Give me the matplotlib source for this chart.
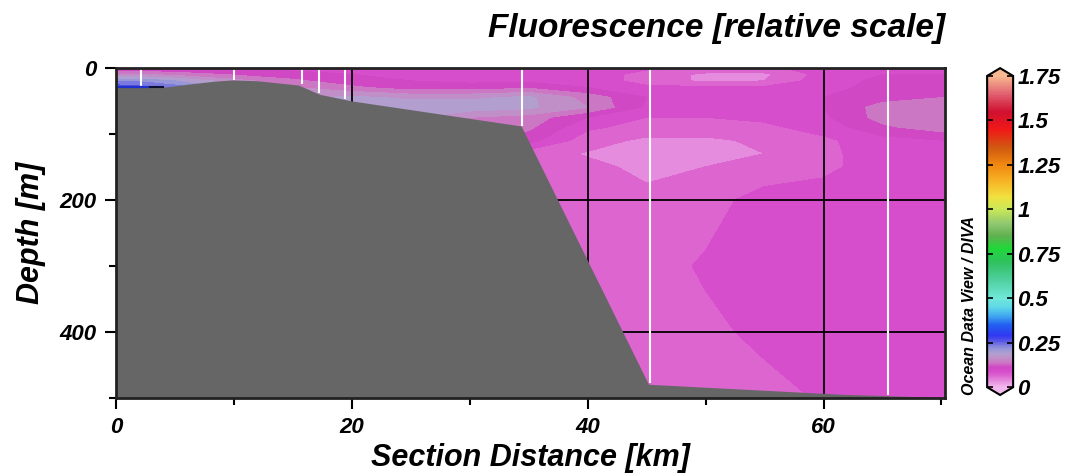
import numpy as np
import matplotlib
matplotlib.use("Agg")
import matplotlib.pyplot as plt
from matplotlib.colors import LinearSegmentedColormap, Normalize
from matplotlib import font_manager
from matplotlib.cm import ScalarMappable

# ---------------- data ----------------
x_km = [0, 2, 5, 10, 15, 20, 25, 30, 35, 40, 45, 50, 55, 60, 65, 70.3]
depth_m = [0, 10, 20, 30, 45, 60, 75, 90, 110, 130, 150, 200, 300, 400, 500]
fluor = [
    [.09, .09, .09, .09, .09, .09, .09, .09, .09, .09, .08, .07, .07, .085, .09, .09],
    [.15, .15, .14, .12, .11, .10, .09, .09, .09, .09, .065, .045, .045, .085, .10, .10],
    [.22, .22, .20, .16, .13, .11, .10, .095, .095, .09, .065, .045, .05, .09, .105, .105],
    [.27, .26, .24, .19, .15, .13, .11, .11, .12, .10, .08, .08, .08, .095, .105, .11],
    [.27, .26, .24, .20, .17, .18, .17, .17, .18, .14, .10, .09, .09, .10, .115, .125],
    [.27, .26, .24, .20, .18, .18, .19, .19, .18, .15, .095, .09, .09, .10, .135, .145],
    [.27, .26, .24, .20, .18, .18, .18, .15, .14, .10, .075, .075, .08, .095, .135, .15],
    [.27, .26, .24, .20, .18, .18, .16, .14, .13, .08, .065, .065, .07, .085, .12, .14],
    [.15, .15, .15, .15, .15, .15, .15, .13, .11, .06, .045, .045, .055, .07, .09, .10],
    [.06, .06, .06, .06, .06, .06, .06, .06, .06, .048, .04, .04, .05, .07, .085, .09],
    [.06, .06, .06, .06, .06, .06, .06, .06, .06, .055, .045, .05, .06, .07, .085, .09],
    [.06, .06, .06, .06, .06, .06, .06, .06, .06, .06, .055, .065, .085, .085, .09, .09],
    [.06, .06, .06, .06, .06, .06, .06, .06, .06, .06, .065, .078, .085, .09, .09, .095],
    [.06, .06, .06, .06, .06, .06, .06, .06, .06, .06, .06, .07, .08, .09, .09, .095],
    [.06, .06, .06, .06, .06, .06, .06, .06, .06, .06, .06, .065, .068, .077, .09, .095],
]

bathy_x = [0, 4, 6, 8.5, 9.9, 12, 15.5, 17.3, 20, 34.4, 45.2, 61.4, 70.3]
bathy_d = [30.5, 30.5, 26, 21, 19.3, 20.5, 27, 41, 51, 89, 480, 495, 500]

station_x = [2.1, 10.0, 15.8, 17.2, 19.4, 34.4, 45.3, 65.5]
station_bottom = [28, 19, 25, 38, 48, 89, 477, 495]

trace_x = [0, 4.0]
trace_blue_x = [0, 2.7]
trace_d = [29, 29]

cbar_ticks = [0, 0.25, 0.5, 0.75, 1.0, 1.25, 1.5, 1.75]
cbar_labels = ["0", "0.25", "0.5", "0.75", "1", "1.25", "1.5", "1.75"]

# ---------------- style ----------------
names = {f.name for f in font_manager.fontManager.ttflist}
fam = ["Liberation Sans Narrow"] if "Liberation Sans Narrow" in names else ["Liberation Sans"]
fam = fam + ["DejaVu Sans"]
plt.rcParams["font.family"] = fam
plt.rcParams["font.weight"] = "bold"
plt.rcParams["font.style"] = "italic"
plt.rcParams["axes.labelweight"] = "bold"

stops = [
    (0.0, "#f4b8f0"), (0.0375, "#e488dc"), (0.0625, "#dc64d0"), (0.0875, "#d64ccc"),
    (0.1125, "#d048c4"), (0.1375, "#cc78c4"), (0.1625, "#c090c8"), (0.1875, "#b0a0d0"),
    (0.2125, "#9898d8"), (0.2375, "#7878e0"), (0.2625, "#5050e8"), (0.29, "#3038f0"),
    (0.35, "#2060f0"), (0.4, "#40a8f0"), (0.45, "#60d8e8"), (0.5, "#70e8d8"),
    (0.6, "#50d0a0"), (0.7, "#30c060"), (0.78, "#20d838"), (0.85, "#60b050"),
    (0.92, "#90c870"), (1.0, "#c8e858"), (1.07, "#f0e040"), (1.15, "#f8b828"),
    (1.25, "#f08810"), (1.35, "#d05810"), (1.45, "#f01818"), (1.55, "#d01030"),
    (1.65, "#e06070"), (1.75, "#f8b890"),
]
vmax = 1.75
cmap = LinearSegmentedColormap.from_list("odv", [(v / vmax, c) for v, c in stops], N=512)
cmap.set_under("#f4b8f0")
cmap.set_over("#f8b890")
norm = Normalize(0, vmax)

fig = plt.figure(figsize=(10.66, 4.73), dpi=100)
ax = fig.add_axes([0.1088, 0.1586, 0.7777, 0.6983])

X, Y = np.meshgrid(np.array(x_km), np.array(depth_m))
Z = np.array(fluor)
levels = np.arange(0, 1.75 + 1e-9, 0.025)
ax.contourf(X, Y, Z, levels=levels, cmap=cmap, norm=norm, antialiased=False)

# seabed
poly_x = list(bathy_x) + [bathy_x[-1], bathy_x[0]]
poly_d = list(bathy_d) + [600, 600]
ax.fill(poly_x, poly_d, color="#666666", zorder=3, lw=0)

# station lines
ax.vlines(station_x, 0, station_bottom, colors="white", lw=1.5, zorder=4)
ax.plot(trace_x, trace_d, color="#101030", lw=1.5, zorder=5)
ax.plot(trace_blue_x, trace_d, color="#2030d0", lw=1.5, zorder=5)

ax.set_xlim(0, 70.3)
ax.set_ylim(500, 0)
ax.set_xticks([0, 20, 40, 60])
ax.set_xticks([10, 30, 50, 70], minor=True)
ax.set_yticks([0, 200, 400])
ax.set_yticks([100, 300, 500], minor=True)
ax.grid(True, which="major", color="black", lw=1.3, zorder=6)
ax.set_axisbelow(False)
for s in ax.spines.values():
    s.set_linewidth(2)
    s.set_color("#222222")
    s.set_zorder(7)
ax.tick_params(axis="both", which="major", direction="out", length=8, width=1.5,
               labelsize=16, pad=6)
ax.tick_params(axis="both", which="minor", direction="out", length=5, width=1.5)

ax.set_xlabel("Section Distance [km]", fontsize=22, labelpad=3)
ax.set_ylabel("Depth [m]", fontsize=22, labelpad=10)

fig.text(0.8865, 0.940, "Fluorescence [relative scale]", ha="right", va="center", fontsize=24)

# colorbar
cax = fig.add_axes([0.926, 0.1649, 0.0244, 0.691])
sm = ScalarMappable(norm=norm, cmap=cmap)
cb = fig.colorbar(sm, cax=cax, extend="both", extendfrac=0.025, ticks=cbar_ticks)
cb.ax.set_yticklabels(cbar_labels)
cb.ax.tick_params(direction="in", left=True, right=True, length=4, width=1.2,
                  labelsize=16, pad=3)
cb.outline.set_linewidth(1.5)

fig.text(0.9095, 0.165, "Ocean Data View / DIVA", rotation=90, ha="center", va="bottom",
         fontsize=11.5)

fig.savefig("out.png", dpi=100)
